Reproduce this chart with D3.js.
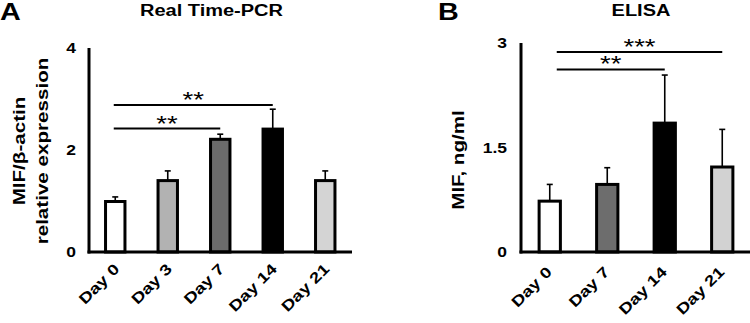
<!DOCTYPE html>
<meta charset="utf-8">
<head>
  <title>MIF expression</title>
  <script src="https://d3js.org/d3.v7.min.js"></script>
  <style>
    body { margin: 0; background: #fff; }
    svg text { font-family: "Liberation Sans", Arial, sans-serif; font-weight: bold; fill: #000; }
  </style>
</head>
<body>
<div id="chart"></div>
<script>
  // ---- data ----
  const pcrDays  = ["Day 0", "Day 3", "Day 7", "Day 14", "Day 21"];
  const pcrMean  = [0.99, 1.40, 2.21, 2.41, 1.40];
  const pcrErr   = [0.09, 0.19, 0.10, 0.39, 0.19];
  const pcrTicks = [0, 2, 4];
  const pcrSig   = [
    {from: "Day 0", to: "Day 7",  y: 2.42, label: "**"},
    {from: "Day 0", to: "Day 14", y: 2.88, label: "**"}
  ];

  const elisaDays  = ["Day 0", "Day 7", "Day 14", "Day 21"];
  const elisaMean  = [0.73, 0.97, 1.85, 1.22];
  const elisaErr   = [0.24, 0.24, 0.69, 0.54];
  const elisaTicks = [0, 1.5, 3];
  const elisaSig   = [
    {from: "Day 0", to: "Day 14", y: 2.62, label: "**"},
    {from: "Day 0", to: "Day 21", y: 2.87, label: "***"}
  ];

  // bar fills (style, kept apart from the values)
  const pcrFill   = ["#ffffff", "#b2b2b2", "#6b6b6b", "#000000", "#d4d4d4"];
  const elisaFill = ["#ffffff", "#6d6d6d", "#000000", "#d2d2d2"];

  const W = 750, H = 323;
  const K = 1.25; // the original text is stretched along its baseline

  var svg = d3.select("#chart").append("svg")
      .attr("width", W).attr("height", H);

  function txt(g, x, y, s, size, anchor, rot) {
    return g.append("text")
      .attr("transform", "translate(" + x + "," + y + ") rotate(" + (rot || 0) + ") scale(" + K + ",1)")
      .attr("text-anchor", anchor)
      .style("font-size", size + "px")
      .text(s);
  }

  function panel(o) {
    var g = svg.append("g");
    var x = d3.scaleBand().domain(o.days).range([o.x0, o.x1])
        .paddingInner(0.63).paddingOuter(0.315);
    var y = d3.scaleLinear().domain([0, o.max]).range([252, o.top]);
    var rows = o.days.map(function(d, i) { return {day: d, m: o.mean[i], e: o.err[i], c: o.fill[i]}; });
    var cx = function(d) { return x(d) + x.bandwidth() / 2; };

    // error bars (upper only)
    g.selectAll(".eb").data(rows).enter().append("line")
      .attr("x1", function(d) { return cx(d.day); }).attr("x2", function(d) { return cx(d.day); })
      .attr("y1", function(d) { return y(d.m); }).attr("y2", function(d) { return y(d.m + d.e); })
      .attr("stroke", "#000").attr("stroke-width", 1.6);
    g.selectAll(".cap").data(rows).enter().append("line")
      .attr("x1", function(d) { return cx(d.day) - 3; }).attr("x2", function(d) { return cx(d.day) + 3; })
      .attr("y1", function(d) { return y(d.m + d.e); }).attr("y2", function(d) { return y(d.m + d.e); })
      .attr("stroke", "#000").attr("stroke-width", 1.6);

    // bars
    g.selectAll("rect").data(rows).enter().append("rect")
      .attr("x", function(d) { return x(d.day); })
      .attr("width", x.bandwidth())
      .attr("y", function(d) { return y(d.m); })
      .attr("height", function(d) { return y(0) - y(d.m); })
      .attr("fill", function(d) { return d.c; })
      .attr("stroke", "#000").attr("stroke-width", 3);

    // axes
    g.append("line").attr("x1", o.x0).attr("x2", o.x0).attr("y1", y(o.max)).attr("y2", y(0) + 1.5)
      .attr("stroke", "#000").attr("stroke-width", 3);
    g.append("line").attr("x1", o.x0 - 1.5).attr("x2", o.axisEnd).attr("y1", y(0)).attr("y2", y(0))
      .attr("stroke", "#000").attr("stroke-width", 3);

    o.ticks.forEach(function(t) {
      txt(g, o.tickX, y(t) + 5, String(t), 14, "end", 0);
    });

    o.days.forEach(function(d) {
      txt(g, cx(d) + o.lab.dx, o.lab.y, d, 15, "end", -45);
    });

    // significance brackets
    o.sig.forEach(function(s) {
      var xa = cx(s.from) + o.sigShift, xb = cx(s.to);
      g.append("line").attr("x1", xa).attr("x2", xb).attr("y1", y(s.y)).attr("y2", y(s.y))
        .attr("stroke", "#000").attr("stroke-width", 2);
      txt(g, (xa + xb) / 2, y(s.y) + 2, s.label, 22, "middle", 0).style("font-weight", "normal");
    });

    // titles
    txt(g, o.titleX, 16, o.title, 16, "middle", 0);
    txt(g, o.letterX, 20, o.letter, 23, "start", 0);
    o.ylab.forEach(function(l) {
      txt(g, l.x, o.ylabY, l.t, 16.5, "middle", -90);
    });
  }

  panel({
    days: pcrDays, mean: pcrMean, err: pcrErr, fill: pcrFill, ticks: pcrTicks, sig: pcrSig,
    x0: 89, x1: 351.5, axisEnd: 352, max: 4, top: 48, tickX: 76,
    lab: {dx: 5, y: 270}, sigShift: -1.5,
    title: "Real Time-PCR", titleX: 211.5, letter: "A", letterX: 0,
    ylab: [{t: "MIF/β-actin", x: 25}, {t: "relative expression", x: 48}], ylabY: 151
  });

  panel({
    days: elisaDays, mean: elisaMean, err: elisaErr, fill: elisaFill, ticks: elisaTicks, sig: elisaSig,
    x0: 521, x1: 751, axisEnd: 750, max: 3, top: 43, tickX: 507,
    lab: {dx: 3, y: 273}, sigShift: 7,
    title: "ELISA", titleX: 641, letter: "B", letterX: 438,
    ylab: [{t: "MIF, ng/ml", x: 463.5}], ylabY: 160
  });
</script>
</body>
